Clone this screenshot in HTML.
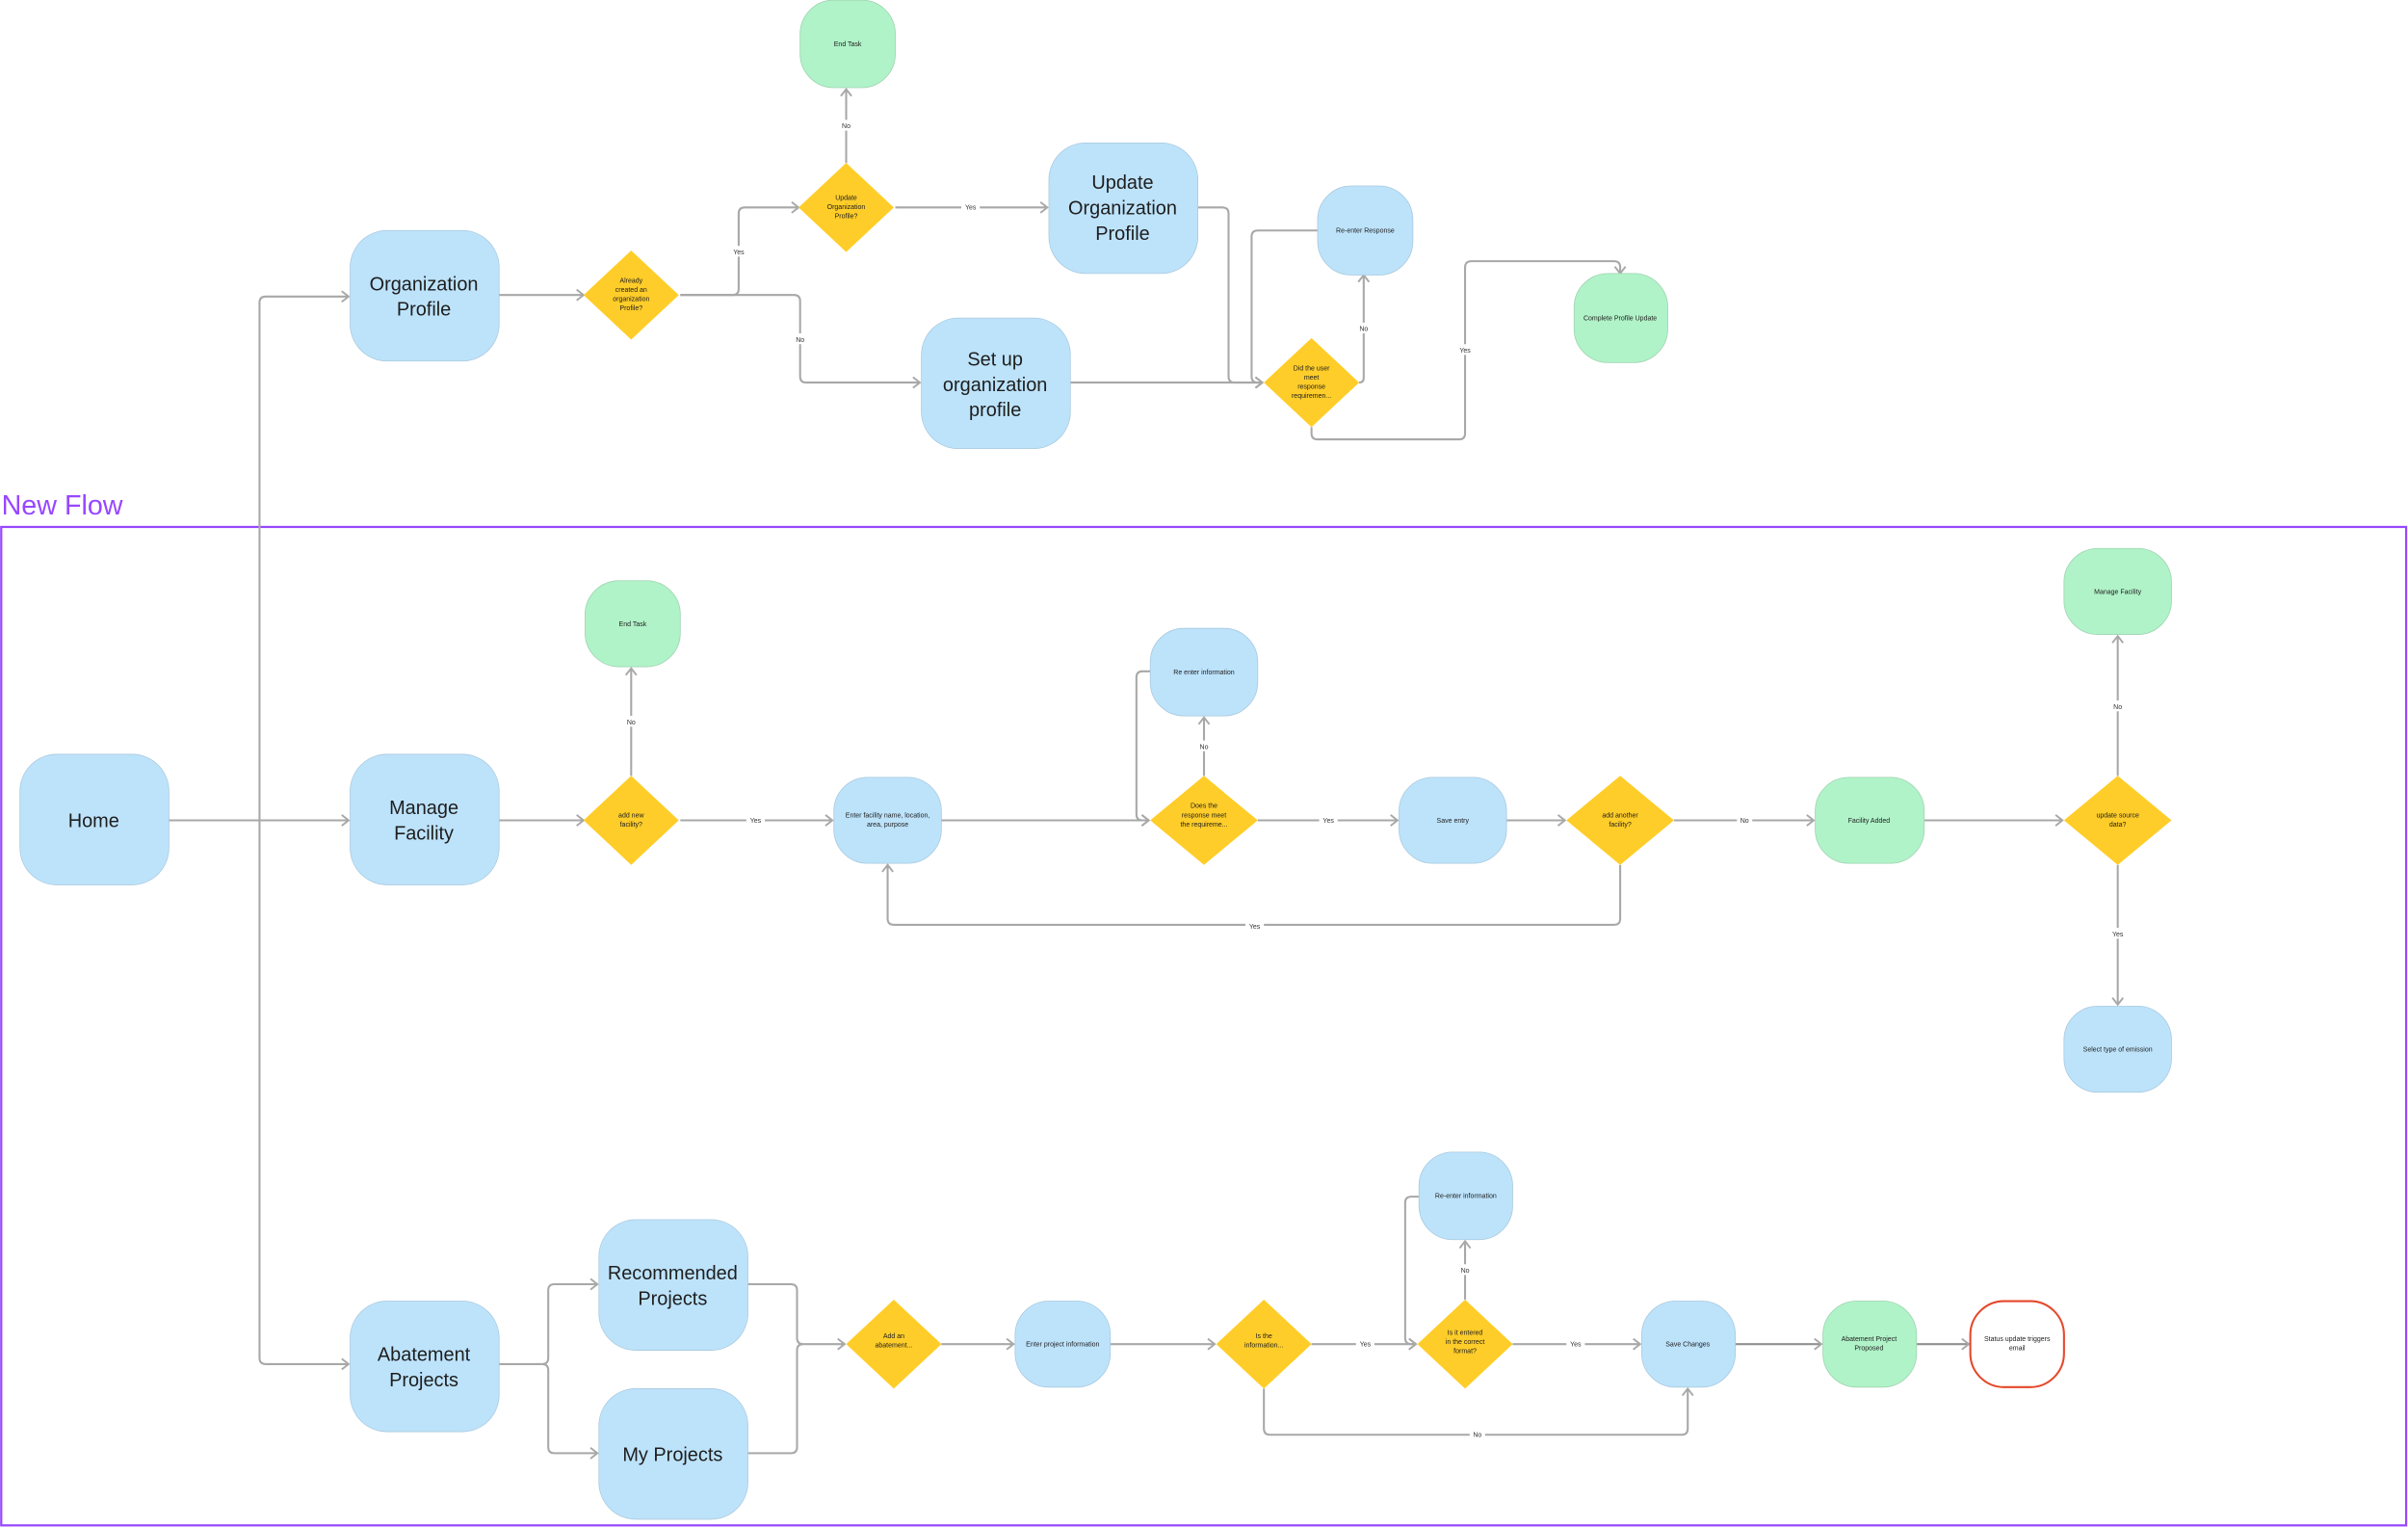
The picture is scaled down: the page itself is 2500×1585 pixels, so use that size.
<!DOCTYPE html>
<html><head><meta charset="utf-8"><style>
html,body{margin:0;padding:0;background:#fff;}
svg{display:block;}
text{font-family:"Liberation Sans",sans-serif;fill:#1e1e1e;}
.b{fill:#bde3fb;stroke:#a9c9de;stroke-width:.5}
.g{fill:#b0f3c8;stroke:#9fd3b2;stroke-width:.5}
.y{fill:#ffcd29}
.l{fill:none;stroke:#a8a8a8;stroke-width:1.3;stroke-linejoin:round}
.a{marker-end:url(#ar)}
.big{font-size:12.5px}
.sm{font-size:4.4px}
.lb{font-size:4.4px;fill:#333}
</style></head><body>
<svg width="2500" height="1585" viewBox="0 0 1568 994" xmlns="http://www.w3.org/2000/svg">
<defs><marker id="ar" markerUnits="userSpaceOnUse" markerWidth="8" markerHeight="10" refX="5.5" refY="4" orient="auto"><path d="M1,0.5 L5.5,4 L1,7.5" fill="none" stroke="#a8a8a8" stroke-width="1.2"/></marker></defs>

<!-- Frame -->
<text x="1" y="335" style="font-size:18px;fill:#9747ff">New Flow</text>
<rect x="0.8" y="343" width="1566" height="650" fill="none" stroke="#9747ff" stroke-width="1.4"/>

<!-- connectors -->
<g>
<path class="l a" d="M110,534 H227"/>
<path class="l a" d="M169,534 V197 Q169,193 173,193 H227"/>
<path class="l a" d="M169,534 V884 Q169,888 173,888 H227"/>
<path class="l a" d="M325,192 H380"/>
<path class="l a" d="M443,192 H477 Q481,192 481,188 V139 Q481,135 485,135 H520"/>
<path class="l a" d="M443,192 H517 Q521,192 521,196 V245 Q521,249 525,249 H599"/>
<path class="l a" d="M551,106 V58"/>
<path class="l a" d="M583,135 H682"/>
<path class="l a" d="M697,249 H822"/>
<path class="l a" d="M780,135 H796 Q800,135 800,139 V245 Q800,249 804,249 H822"/>
<path class="l a" d="M858,150 H819 Q815,150 815,154 V245 Q815,249 819,249 H822"/>
<path class="l a" d="M885,249 Q888,249 888,246 V179"/>
<path class="l a" d="M854,278 V282 Q854,286 858,286 H950 Q954,286 954,282 V174 Q954,170 958,170 H1051 Q1055,170 1055,174 V178"/>

<path class="l a" d="M325,534 H380"/>
<path class="l a" d="M411,505 V435"/>
<path class="l a" d="M443,534 H542"/>
<path class="l a" d="M613,534 H748"/>
<path class="l a" d="M749,437 H744 Q740,437 740,441 V530 Q740,534 744,534 H748"/>
<path class="l a" d="M784,505 V467"/>
<path class="l a" d="M819,534 H910"/>
<path class="l a" d="M981,534 H1019"/>
<path class="l a" d="M1055,563 V598 Q1055,602 1051,602 H582 Q578,602 578,598 V563"/>
<path class="l a" d="M1090,534 H1181"/>
<path class="l a" d="M1253,534 H1343"/>
<path class="l a" d="M1379,505 V414"/>
<path class="l a" d="M1379,563 V654"/>

<path class="l" d="M325,888 H353"/>
<path class="l a" d="M353,888 Q357,888 357,884 V840 Q357,836 361,836 H389"/>
<path class="l a" d="M353,888 Q357,888 357,892 V942 Q357,946 361,946 H389"/>
<path class="l a" d="M487,836 H515 Q519,836 519,840 V871 Q519,875 523,875 H550"/>
<path class="l" d="M487,946 H515 Q519,946 519,942 V879 Q519,875 523,875"/>
<path class="l a" d="M613,875 H660"/>
<path class="l a" d="M723,875 H791"/>
<path class="l a" d="M854,875 H922"/>
<path class="l a" d="M954,846 V808"/>
<path class="l a" d="M924,779 H919 Q915,779 915,783 V871 Q915,875 919,875 H922"/>
<path class="l a" d="M985,875 H1068"/>
<path class="l a" d="M823,904 V930 Q823,934 827,934 H1095 Q1099,934 1099,930 V904"/>
<path class="l a" d="M1130,875 H1186" style="stroke:#909090"/>
<path class="l a" d="M1248,875 H1282" style="stroke:#909090"/>
</g>

<!-- labels -->
<g>
<rect x="476" y="160" width="10" height="7" fill="#fff"/><text class="lb" x="481" y="165.5" text-anchor="middle">Yes</text>
<rect x="516" y="217" width="10" height="7" fill="#fff"/><text class="lb" x="521" y="222.5" text-anchor="middle">No</text>
<rect x="546" y="78" width="10" height="7" fill="#fff"/><text class="lb" x="551" y="83.5" text-anchor="middle">No</text>
<rect x="626" y="131" width="12" height="7" fill="#fff"/><text class="lb" x="632" y="136.5" text-anchor="middle">Yes</text>
<rect x="883" y="210" width="10" height="7" fill="#fff"/><text class="lb" x="888" y="215.5" text-anchor="middle">No</text>
<rect x="949" y="224" width="10" height="7" fill="#fff"/><text class="lb" x="954" y="229.5" text-anchor="middle">Yes</text>
<rect x="406" y="466" width="10" height="7" fill="#fff"/><text class="lb" x="411" y="471.5" text-anchor="middle">No</text>
<rect x="486" y="530" width="12" height="7" fill="#fff"/><text class="lb" x="492" y="535.5" text-anchor="middle">Yes</text>
<rect x="779" y="482" width="10" height="7" fill="#fff"/><text class="lb" x="784" y="487.5" text-anchor="middle">No</text>
<rect x="859" y="530" width="12" height="7" fill="#fff"/><text class="lb" x="865" y="535.5" text-anchor="middle">Yes</text>
<rect x="811" y="599" width="12" height="7" fill="#fff"/><text class="lb" x="817" y="604.5" text-anchor="middle">Yes</text>
<rect x="1131" y="530" width="10" height="7" fill="#fff"/><text class="lb" x="1136" y="535.5" text-anchor="middle">No</text>
<rect x="1374" y="456" width="10" height="7" fill="#fff"/><text class="lb" x="1379" y="461.5" text-anchor="middle">No</text>
<rect x="1373" y="604" width="12" height="7" fill="#fff"/><text class="lb" x="1379" y="609.5" text-anchor="middle">Yes</text>
<rect x="883" y="871" width="12" height="7" fill="#fff"/><text class="lb" x="889" y="876.5" text-anchor="middle">Yes</text>
<rect x="949" y="823" width="10" height="7" fill="#fff"/><text class="lb" x="954" y="828.5" text-anchor="middle">No</text>
<rect x="1020" y="871" width="12" height="7" fill="#fff"/><text class="lb" x="1026" y="876.5" text-anchor="middle">Yes</text>
<rect x="957" y="930" width="10" height="7" fill="#fff"/><text class="lb" x="962" y="935.5" text-anchor="middle">No</text>
</g>

<!-- nodes top -->
<rect class="g" x="521" y="0" width="62" height="57" rx="22"/>
<text class="sm" x="552" y="30" text-anchor="middle">End Task</text>
<polygon class="y" points="551,106 582,135 551,164 520,135"/>
<text class="sm" x="551" y="130" text-anchor="middle"><tspan x="551">Update</tspan><tspan x="551" dy="6">Organization</tspan><tspan x="551" dy="6">Profile?</tspan></text>
<rect class="b" x="683" y="93" width="97" height="85" rx="24"/>
<text class="big" x="731" y="123" text-anchor="middle"><tspan x="731">Update</tspan><tspan x="731" dy="16.5">Organization</tspan><tspan x="731" dy="16.5">Profile</tspan></text>
<rect class="b" x="228" y="150" width="97" height="85" rx="24"/>
<text class="big" x="276" y="189" text-anchor="middle"><tspan x="276">Organization</tspan><tspan x="276" dy="16.5">Profile</tspan></text>
<polygon class="y" points="411,163 442,192 411,221 380,192"/>
<text class="sm" x="411" y="184" text-anchor="middle"><tspan x="411">Already</tspan><tspan x="411" dy="6">created an</tspan><tspan x="411" dy="6">organization</tspan><tspan x="411" dy="6">Profile?</tspan></text>
<rect class="b" x="600" y="207" width="97" height="85" rx="24"/>
<text class="big" x="648" y="238" text-anchor="middle"><tspan x="648">Set up</tspan><tspan x="648" dy="16.5">organization</tspan><tspan x="648" dy="16.5">profile</tspan></text>
<polygon class="y" points="854,220 885,249 854,278 823,249"/>
<text class="sm" x="854" y="241" text-anchor="middle"><tspan x="854">Did the user</tspan><tspan x="854" dy="6">meet</tspan><tspan x="854" dy="6">response</tspan><tspan x="854" dy="6">requiremen...</tspan></text>
<rect class="b" x="858" y="121" width="62" height="58" rx="22"/>
<text class="sm" x="889" y="151.5" text-anchor="middle">Re-enter Response</text>
<rect class="g" x="1025" y="178" width="61" height="58" rx="22"/>
<text class="sm" x="1055" y="208.5" text-anchor="middle">Complete Profile Update</text>

<!-- middle -->
<rect class="b" x="13" y="491" width="97" height="85" rx="24"/>
<text class="big" x="61" y="538.5" text-anchor="middle">Home</text>
<rect class="b" x="228" y="491" width="97" height="85" rx="24"/>
<text class="big" x="276" y="530" text-anchor="middle"><tspan x="276">Manage</tspan><tspan x="276" dy="16.5">Facility</tspan></text>
<polygon class="y" points="411,505 442,534 411,563 380,534"/>
<text class="sm" x="411" y="532" text-anchor="middle"><tspan x="411">add new</tspan><tspan x="411" dy="6">facility?</tspan></text>
<rect class="g" x="381" y="378" width="62" height="56" rx="22"/>
<text class="sm" x="412" y="407.5" text-anchor="middle">End Task</text>
<rect class="b" x="543" y="506" width="70" height="56" rx="22"/>
<text class="sm" x="578" y="532" text-anchor="middle"><tspan x="578">Enter facility name, location,</tspan><tspan x="578" dy="6">area, purpose</tspan></text>
<polygon class="y" points="784,505 819,534 784,563 749,534"/>
<text class="sm" x="784" y="526" text-anchor="middle"><tspan x="784">Does the</tspan><tspan x="784" dy="6">response meet</tspan><tspan x="784" dy="6">the requireme...</tspan></text>
<rect class="b" x="749" y="409" width="70" height="57" rx="22"/>
<text class="sm" x="784" y="439" text-anchor="middle">Re enter information</text>
<rect class="b" x="911" y="506" width="70" height="56" rx="22"/>
<text class="sm" x="946" y="535.5" text-anchor="middle">Save entry</text>
<polygon class="y" points="1055,505 1090,534 1055,563 1020,534"/>
<text class="sm" x="1055" y="532" text-anchor="middle"><tspan x="1055">add another</tspan><tspan x="1055" dy="6">facility?</tspan></text>
<rect class="g" x="1182" y="506" width="71" height="56" rx="22"/>
<text class="sm" x="1217" y="535.5" text-anchor="middle">Facility Added</text>
<polygon class="y" points="1379,505 1414,534 1379,563 1344,534"/>
<text class="sm" x="1379" y="532" text-anchor="middle"><tspan x="1379">update source</tspan><tspan x="1379" dy="6">data?</tspan></text>
<rect class="g" x="1344" y="357" width="70" height="56" rx="22"/>
<text class="sm" x="1379" y="386.5" text-anchor="middle">Manage Facility</text>
<rect class="b" x="1344" y="655" width="70" height="56" rx="22"/>
<text class="sm" x="1379" y="684.5" text-anchor="middle">Select type of emission</text>

<!-- bottom -->
<rect class="b" x="228" y="847" width="97" height="85" rx="24"/>
<text class="big" x="276" y="886" text-anchor="middle"><tspan x="276">Abatement</tspan><tspan x="276" dy="16.5">Projects</tspan></text>
<rect class="b" x="390" y="794" width="97" height="85" rx="24"/>
<text class="big" x="438" y="833" text-anchor="middle"><tspan x="438">Recommended</tspan><tspan x="438" dy="16.5">Projects</tspan></text>
<rect class="b" x="390" y="904" width="97" height="85" rx="24"/>
<text class="big" x="438" y="951" text-anchor="middle">My Projects</text>
<polygon class="y" points="582,846 613,875 582,904 551,875"/>
<text class="sm" x="582" y="871" text-anchor="middle"><tspan x="582">Add an</tspan><tspan x="582" dy="6">abatement...</tspan></text>
<rect class="b" x="661" y="847" width="62" height="56" rx="22"/>
<text class="sm" x="692" y="876.5" text-anchor="middle">Enter project information</text>
<polygon class="y" points="823,846 854,875 823,904 792,875"/>
<text class="sm" x="823" y="871" text-anchor="middle"><tspan x="823">Is the</tspan><tspan x="823" dy="6">information...</tspan></text>
<polygon class="y" points="954,846 985,875 954,904 923,875"/>
<text class="sm" x="954" y="869" text-anchor="middle"><tspan x="954">Is it entered</tspan><tspan x="954" dy="6">in the correct</tspan><tspan x="954" dy="6">format?</tspan></text>
<rect class="b" x="924" y="750" width="61" height="57" rx="22"/>
<text class="sm" x="954.5" y="780" text-anchor="middle">Re-enter information</text>
<rect class="b" x="1069" y="847" width="61" height="56" rx="22"/>
<text class="sm" x="1099" y="876.5" text-anchor="middle">Save Changes</text>
<rect class="g" x="1187" y="847" width="61" height="56" rx="22"/>
<text class="sm" x="1217" y="873" text-anchor="middle"><tspan x="1217">Abatement Project</tspan><tspan x="1217" dy="6">Proposed</tspan></text>
<rect x="1283" y="847" width="61" height="56" rx="22" fill="#fff" stroke="#e5482b" stroke-width="1.3"/>
<text class="sm" x="1313.5" y="873" text-anchor="middle"><tspan x="1313.5">Status update triggers</tspan><tspan x="1313.5" dy="6">email</tspan></text>
</svg>
</body></html>
